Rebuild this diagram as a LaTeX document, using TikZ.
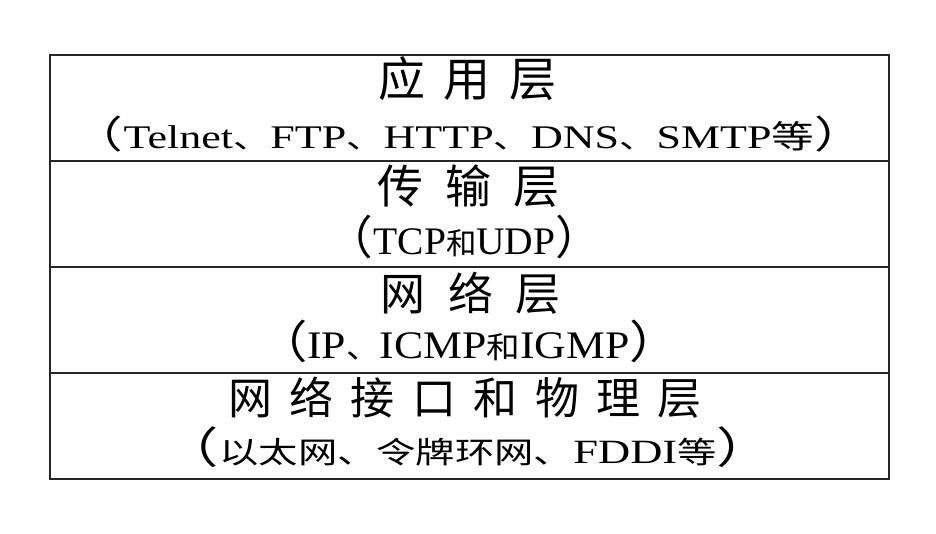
\documentclass[tikz,border=0pt]{standalone}
\usepackage{fontspec}
\usepackage{graphicx}
\setmainfont{Liberation Serif}
\newfontfamily\cjk{Noto Sans CJK SC}
\newcommand\Lt[2]{{\fontsize{#1}{#1}\selectfont #2}}
\newcommand\Ck[2]{{\cjk\fontsize{#1}{#1}\selectfont #2}}
\newcommand\Gl[2]{\makebox[#1]{#2}}
\tikzset{
  rowbox/.style={draw=black!85, line width=1.3pt, minimum width=839pt, minimum height=106pt, inner sep=0pt, outer sep=0pt},
  txt/.style={inner sep=0pt, outer sep=0pt, anchor=center},
  subtxt/.style={inner sep=0pt, outer sep=0pt, anchor=base}
}
\begin{document}
\begin{tikzpicture}[x=1pt,y=-1pt]
\useasboundingbox (0,0) rectangle (936,534);
% layer rows
\node[rowbox] (r1) at (469.5,108) {};
\node[rowbox] (r2) at (469.5,214) {};
\node[rowbox] (r3) at (469.5,320) {};
\node[rowbox] (r4) at (469.5,426) {};
% titles
\node[txt] (t1) at (467.5,79) {\cjk\fontsize{47pt}{47pt}\selectfont\Gl{66pt}{应}\Gl{66pt}{用}\Gl{66pt}{层}};
\node[txt] (t2) at (468.5,186) {\cjk\fontsize{46pt}{46pt}\selectfont\Gl{68pt}{传}\Gl{68pt}{输}\Gl{68pt}{层}};
\node[txt] (t3) at (470.5,293) {\cjk\fontsize{45pt}{45pt}\selectfont\Gl{68pt}{网}\Gl{68pt}{络}\Gl{68pt}{层}};
\node[txt] (t4) at (465,398) {\cjk\fontsize{44pt}{44pt}\selectfont\Gl{61.4pt}{网}\Gl{61.4pt}{络}\Gl{61.4pt}{接}\Gl{61.4pt}{口}\Gl{61.4pt}{和}\Gl{61.4pt}{物}\Gl{61.4pt}{理}\Gl{61.4pt}{层}};
% protocol lines
\node[subtxt] (s1) at (469,149) {\resizebox{792pt}{\height}{\Ck{38pt}{（}\Lt{33pt}{Telnet}\Ck{28pt}{、}\Lt{33pt}{FTP}\Ck{28pt}{、}\Lt{33pt}{HTTP}\Ck{28pt}{、}\Lt{33pt}{DNS}\Ck{28pt}{、}\Lt{33pt}{SMTP}\Ck{32pt}{等}\Ck{38pt}{）}}};
\node[subtxt] (s2) at (464.5,255) {\resizebox{275pt}{\height}{\Ck{46pt}{（}\Lt{39pt}{TCP}\Ck{30pt}{和}\Lt{39pt}{UDP}\Ck{46pt}{）}}};
\node[subtxt] (s3) at (468.5,358) {\resizebox{423pt}{\height}{\Ck{45pt}{（}\Lt{39pt}{IP}\Ck{30pt}{、}\Lt{39pt}{ICMP}\Ck{30pt}{和}\Lt{39pt}{IGMP}\Ck{45pt}{）}}};
\node[subtxt] (s4) at (468,463) {\resizebox{610pt}{\height}{\Ck{43pt}{（}\Ck{30pt}{以太网、令牌环网、}\Lt{34pt}{FDDI}\Ck{30pt}{等}\Ck{43pt}{）}}};
\end{tikzpicture}
\end{document}
